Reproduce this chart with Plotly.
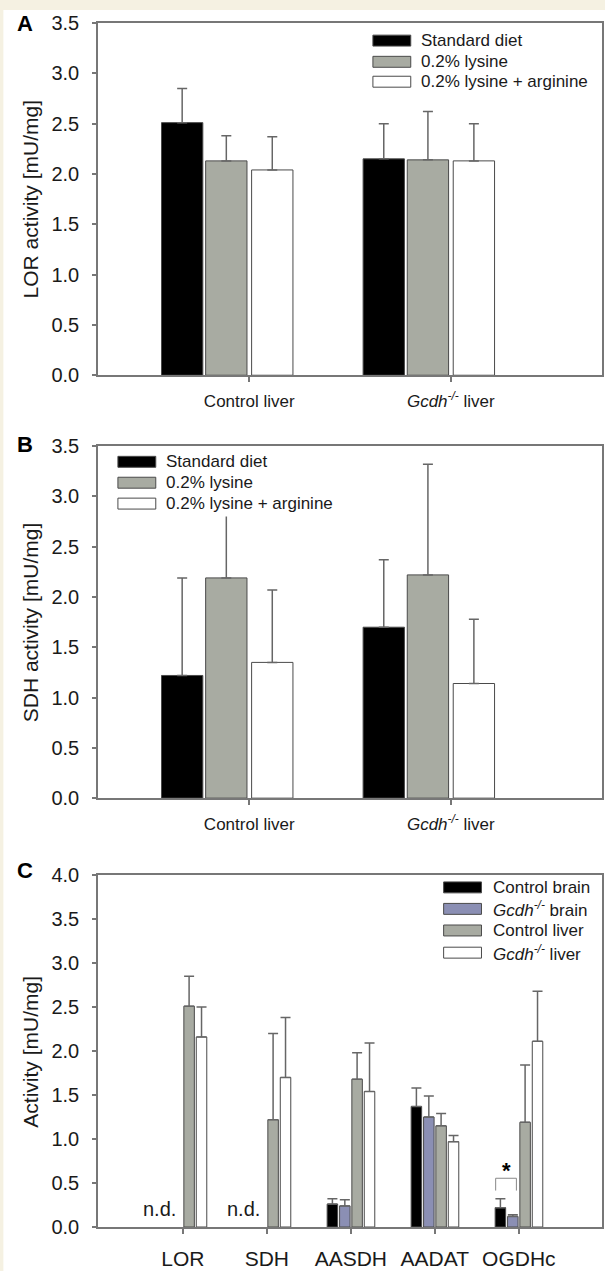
import plotly.graph_objects as go

# ---------------- data ----------------
ab_categories = ["Control liver", "<i>Gcdh</i><sup><i>-/-</i></sup> liver"]
diet_names = ["Standard diet", "0.2% lysine", "0.2% lysine + arginine"]

lor_standard = [2.51, 2.15]
lor_standard_err = [0.34, 0.35]
lor_lysine = [2.13, 2.14]
lor_lysine_err = [0.25, 0.48]
lor_arginine = [2.04, 2.13]
lor_arginine_err = [0.33, 0.37]

sdh_standard = [1.22, 1.70]
sdh_standard_err = [0.97, 0.67]
sdh_lysine = [2.19, 2.22]
sdh_lysine_err = [0.75, 1.10]
sdh_arginine = [1.35, 1.14]
sdh_arginine_err = [0.72, 0.64]

c_categories = ["LOR", "SDH", "AASDH", "AADAT", "OGDHc"]
tissue_names = ["Control brain", "<i>Gcdh</i><sup><i>-/-</i></sup> brain",
                "Control liver", "<i>Gcdh</i><sup><i>-/-</i></sup> liver"]
control_brain = [None, None, 0.26, 1.37, 0.22]
control_brain_err = [0, 0, 0.06, 0.21, 0.10]
gcdh_brain = [None, None, 0.24, 1.25, 0.12]
gcdh_brain_err = [0, 0, 0.07, 0.24, 0.02]
control_liver = [2.51, 1.22, 1.68, 1.15, 1.19]
control_liver_err = [0.34, 0.98, 0.30, 0.14, 0.65]
gcdh_liver = [2.16, 1.70, 1.54, 0.97, 2.11]
gcdh_liver_err = [0.34, 0.68, 0.55, 0.07, 0.57]

nd_label = "n.d."
nd_categories = [0, 1]
sig_label = "*"

# ---------------- layout helpers ----------------
W, H = 605, 1271
ML, MR, MT, MB = 98, 1, 23, 38
PW = W - ML - MR
PH = H - MT - MB


def px(x):
    return (x - ML) / PW


def py(y):
    return 1 - (y - MT) / PH


FONT = "Liberation Sans, Arial, Helvetica, sans-serif"
TXT = "#1a1a1a"
AX = "#777777"
EDGE = "#4a4a4a"
ERR = "#666666"
BLACK = "#000000"
GRAY = "#a8aba2"
BLUE = "#8b8fb4"
WHITE = "#ffffff"
CREAM = "#f5f1e2"

fig = go.Figure()


def add_bar(x, y, err, color, offset, width, xa, ya, name):
    fig.add_trace(go.Bar(
        x=x, y=y, name=name, showlegend=False,
        offset=offset, width=width,
        marker=dict(color=color, line=dict(color=EDGE, width=1)),
        error_y=dict(type="data", symmetric=False, array=err,
                     arrayminus=[0] * len(err), color=ERR,
                     thickness=1.5, width=5),
        xaxis=xa, yaxis=ya,
    ))


# Panel A / B
ab_offsets = [-0.435, -0.216, 0.012]
ab_width = 0.205
ab_colors = [BLACK, GRAY, WHITE]
for vals, errs, c, o, n in zip([lor_standard, lor_lysine, lor_arginine],
                               [lor_standard_err, lor_lysine_err, lor_arginine_err],
                               ab_colors, ab_offsets, diet_names):
    add_bar(ab_categories, vals, errs, c, o, ab_width, "x", "y", n)
for vals, errs, c, o, n in zip([sdh_standard, sdh_lysine, sdh_arginine],
                               [sdh_standard_err, sdh_lysine_err, sdh_arginine_err],
                               ab_colors, ab_offsets, diet_names):
    add_bar(ab_categories, vals, errs, c, o, ab_width, "x2", "y2", n)

# Panel C
c_offsets = [-0.282, -0.134, 0.012, 0.160]
c_width = 0.125
c_colors = [BLACK, BLUE, GRAY, WHITE]
for vals, errs, c, o, n in zip([control_brain, gcdh_brain, control_liver, gcdh_liver],
                               [control_brain_err, gcdh_brain_err, control_liver_err, gcdh_liver_err],
                               c_colors, c_offsets, tissue_names):
    add_bar(c_categories, vals, errs, c, o, c_width, "x3", "y3", n)

yax_common = dict(showgrid=False, zeroline=False, ticks="outside", ticklen=4,
                  tickcolor=AX, tickwidth=1.5, showline=True, linecolor=AX,
                  linewidth=1.5, mirror=True, tickformat=".1f", dtick=0.5, tick0=0,
                  tickfont=dict(family=FONT, size=20, color=TXT),
                  ticklabelstandoff=9)
xax_common = dict(showgrid=False, zeroline=False, ticks="outside", ticklen=5,
                  tickcolor=AX, tickwidth=1.5, showline=True, linecolor=AX,
                  linewidth=1.5, mirror=True, type="category")

fig.update_layout(
    width=W, height=H,
    margin=dict(l=ML, r=MR, t=MT, b=MB, pad=0),
    paper_bgcolor=WHITE, plot_bgcolor=WHITE,
    barmode="overlay", showlegend=False,
    font=dict(family=FONT, color=TXT),
    xaxis=dict(xax_common, domain=[0, 1], anchor="y", range=[-0.75, 1.75],
               tickfont=dict(family=FONT, size=17, color=TXT), ticklabelstandoff=5),
    yaxis=dict(yax_common, domain=[py(377), 1], anchor="x", range=[0, 3.5]),
    xaxis2=dict(xax_common, domain=[0, 1], anchor="y2", range=[-0.75, 1.75],
                tickfont=dict(family=FONT, size=17, color=TXT), ticklabelstandoff=5),
    yaxis2=dict(yax_common, domain=[py(802), py(448.3)], anchor="x2", range=[0, 3.5]),
    xaxis3=dict(xax_common, domain=[0, 1], anchor="y3", range=[-1.01, 4.99],
                tickfont=dict(family=FONT, size=21, color=TXT), ticklabelstandoff=7),
    yaxis3=dict(yax_common, domain=[0, py(879.3)], anchor="x3", range=[0, 4.0]),
)

shapes = []
annotations = []

# cream page border (top and left)
shapes.append(dict(type="rect", xref="paper", yref="paper", layer="below",
                   x0=px(-10), x1=px(620), y0=py(10), y1=py(-10),
                   fillcolor=CREAM, line=dict(width=0)))
shapes.append(dict(type="rect", xref="paper", yref="paper", layer="below",
                   x0=px(-10), x1=px(3), y0=py(1290), y1=py(-10),
                   fillcolor=CREAM, line=dict(width=0)))

# cover (legend background) for panel B
shapes.append(dict(type="rect", xref="paper", yref="paper", layer="above",
                   x0=px(110), x1=px(340), y0=py(519), y1=py(452),
                   fillcolor=WHITE, line=dict(width=0)))


def legend(names, colors, sym_x0, sym_x1, text_x, rows, size):
    for n, c, cy in zip(names, colors, rows):
        shapes.append(dict(type="rect", xref="paper", yref="paper", layer="above",
                           x0=px(sym_x0), x1=px(sym_x1), y0=py(cy + 5.5), y1=py(cy - 5.5),
                           fillcolor=c, line=dict(color=EDGE, width=1)))
        annotations.append(dict(text=n, xref="paper", yref="paper", x=px(text_x), y=py(cy),
                                xanchor="left", yanchor="middle", showarrow=False,
                                font=dict(family=FONT, size=size, color=TXT)))


legend(diet_names, ab_colors, 374, 412, 420, [40.7, 62.0, 82.0], 17)
legend(diet_names, ab_colors, 118, 156, 164.5, [464, 485, 506], 17)
legend(tissue_names, c_colors, 445, 483, 492.5, [891.7, 913.3, 935, 957.3], 17)

# panel letters
for letter, cy in zip(["A", "B", "C"], [23, 447, 875]):
    annotations.append(dict(text="<b>%s</b>" % letter, xref="paper", yref="paper",
                            x=px(25), y=py(cy), xanchor="center", yanchor="middle",
                            showarrow=False, font=dict(family=FONT, size=22, color="#000")))

# y-axis titles
for title, cy in zip(["LOR activity [mU/mg]", "SDH activity [mU/mg]", "Activity [mU/mg]"],
                     [200, 625, 1056.5]):
    annotations.append(dict(text=title, xref="paper", yref="paper", x=px(30), y=py(cy),
                            xanchor="center", yanchor="middle", textangle=-90,
                            showarrow=False, font=dict(family=FONT, size=21, color=TXT)))

# n.d. labels
for ci in nd_categories:
    annotations.append(dict(text=nd_label, xref="x3", yref="y3", x=ci - 0.06, y=0.2,
                            xanchor="right", yanchor="middle", showarrow=False,
                            font=dict(family=FONT, size=20, color=TXT)))

# significance bracket for OGDHc brain
og = c_categories.index("OGDHc")
bx0 = og + c_offsets[0] + 0.006
bx1 = og + c_offsets[1] + c_width - 0.02
shapes.append(dict(type="path", xref="x3", yref="y3", layer="above",
                   path="M %f,0.414 L %f,0.554 L %f,0.554 L %f,0.414" % (bx0, bx0, bx1, bx1),
                   line=dict(color="#888888", width=1)))
annotations.append(dict(text="<b>%s</b>" % sig_label, xref="x3", yref="y3",
                        x=(bx0 + bx1) / 2, y=0.64, xanchor="center", yanchor="middle",
                        showarrow=False, font=dict(family=FONT, size=22, color="#000")))

fig.update_layout(shapes=shapes, annotations=annotations)
fig.write_html("out.html")
